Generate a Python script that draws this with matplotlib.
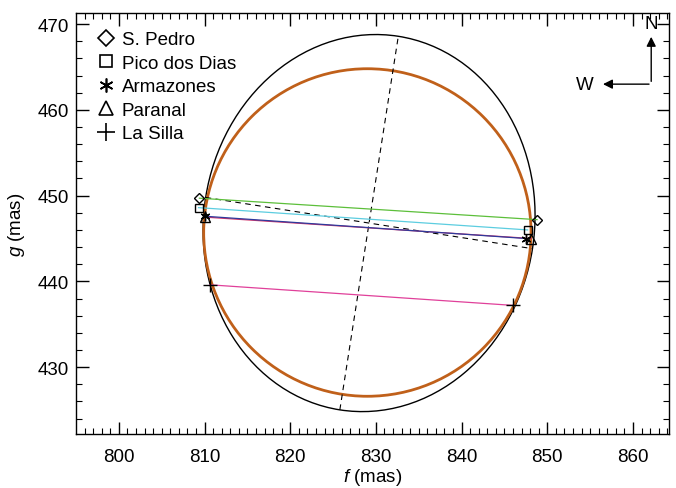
import numpy as np
import matplotlib.pyplot as plt
from matplotlib.patches import Ellipse, Circle

plt.rcParams['font.family'] = ['Liberation Sans', 'DejaVu Sans']
plt.rcParams['mathtext.fontset'] = 'custom'
plt.rcParams['mathtext.it'] = 'Liberation Sans:italic'
plt.rcParams['mathtext.rm'] = 'Liberation Sans'

# Fitted limb: circle and ellipse (mas)
circle_center = (829.0, 445.7)
circle_radius = 19.1
ell_center = (829.2, 446.8)
ell_a = 22.05   # semi-major
ell_b = 19.3    # semi-minor
ell_angle = -8.9  # deg

# Chords: station, colour, marker, (f1, g1), (f2, g2)
stations = ["S. Pedro", "Pico dos Dias", "Armazones", "Paranal", "La Silla"]
colors = ["#5cbf3a", "#5ccde0", "#2f3a9c", "#d2356a", "#e0409a"]
markers = ["D", "s", (6, 2, 0), "^", "+"]
msizes = [5, 6, 7, 7, 10]
f_start = [809.4, 809.3, 810.0, 810.0, 810.6]
g_start = [449.7, 448.6, 447.6, 447.5, 439.6]
f_end = [848.8, 847.7, 847.5, 848.1, 846.0]
g_end = [447.2, 446.0, 445.0, 445.0, 437.2]

fig = plt.figure(figsize=(6.76, 4.89), dpi=100)
ax = fig.add_axes([76 / 676, 1 - 435 / 489, 593 / 676, 421 / 489])

ax.add_patch(Ellipse(ell_center, 2 * ell_b, 2 * ell_a, angle=ell_angle,
                     fill=False, color="black", lw=1.0))
ax.add_patch(Circle(circle_center, circle_radius, fill=False,
                    color="#c0601a", lw=2.0))

# ellipse axes (dashed)
th = np.deg2rad(ell_angle)
maj = np.array([-np.sin(th), np.cos(th)]) * ell_a
mnr = np.array([np.cos(th), np.sin(th)]) * ell_b
c = np.array(ell_center)
for v in (maj, mnr):
    ax.plot([c[0] - v[0], c[0] + v[0]], [c[1] - v[1], c[1] + v[1]],
            color="black", lw=0.8, ls=(0, (5, 4)))

# order so Armazones is drawn over Paranal
for i in [0, 1, 3, 2, 4]:
    ax.plot([f_start[i], f_end[i]], [g_start[i], g_end[i]], color=colors[i], lw=0.9)
for i in range(len(stations)):
    ax.plot([f_start[i], f_end[i]], [g_start[i], g_end[i]], ls="none",
            marker=markers[i], ms=msizes[i], mfc="none", mec="black", mew=1.0)
    ax.plot([], [], ls="none", marker=markers[i], ms=msizes[i] + 3,
            mfc="none", mec="black", mew=1.2, label=stations[i])

ax.legend(loc="upper left", frameon=False, fontsize=13.5, handletextpad=0.3,
          handlelength=1.1, borderaxespad=0.2, labelspacing=0.34,
          bbox_to_anchor=(0.014, 0.984))

# compass
ax.annotate("", xy=(0.97, 0.95), xytext=(0.97, 0.831), xycoords="axes fraction",
            arrowprops=dict(arrowstyle="-|>", color="black", lw=1.0, mutation_scale=14))
ax.annotate("", xy=(0.884, 0.831), xytext=(0.971, 0.831), xycoords="axes fraction",
            arrowprops=dict(arrowstyle="-|>", color="black", lw=1.0, mutation_scale=14))
ax.text(0.97, 0.974, "N", transform=ax.transAxes, ha="center", va="center", fontsize=13.5)
ax.text(0.858, 0.831, "W", transform=ax.transAxes, ha="center", va="center", fontsize=13.5)

ax.set_xlim(795, 864.2)
ax.set_ylim(422.2, 471.3)
ax.set_xticks([800, 810, 820, 830, 840, 850, 860])
ax.set_yticks([430, 440, 450, 460, 470])
ax.set_xticks(np.arange(796, 865, 1), minor=True)
ax.set_yticks(np.arange(424, 472, 2), minor=True)
ax.tick_params(which="both", direction="in", top=True, right=True, labelsize=13.5)
ax.tick_params(which="major", length=9, width=1.0)
ax.tick_params(axis="x", which="major", pad=10)
ax.tick_params(axis="y", which="major", pad=5)
ax.tick_params(which="minor", length=4.5, width=0.8)
for s in ax.spines.values():
    s.set_linewidth(1.0)

ax.set_xlabel(r"$f$ (mas)", fontsize=13.5, labelpad=1)
ax.set_ylabel(r"$g$ (mas)", fontsize=13.5, labelpad=8)

fig.savefig("out.png", dpi=100)
